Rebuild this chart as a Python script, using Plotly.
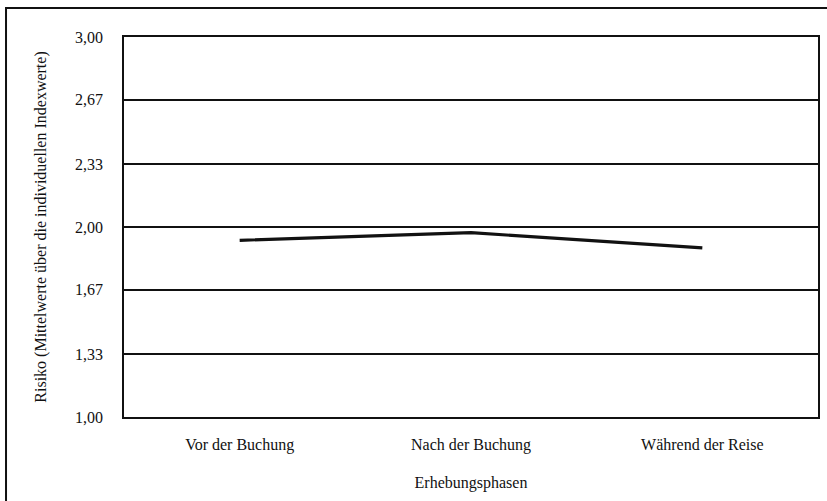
import plotly.graph_objects as go

categories = ["Vor der Buchung", "Nach der Buchung", "Während der Reise"]
risk_values = [1.93, 1.97, 1.89]
y_tickvals = [1.00, 1.33, 1.67, 2.00, 2.33, 2.67, 3.00]
y_ticktext = ["1,00", "1,33", "1,67", "2,00", "2,33", "2,67", "3,00"]

font_family = "Liberation Serif, Times New Roman, serif"

fig = go.Figure()
fig.add_trace(go.Scatter(
    x=categories, y=risk_values, mode="lines",
    line=dict(color="#111111", width=3.2),
    showlegend=False,
))

fig.update_layout(
    width=827, height=501,
    margin=dict(l=124, r=9, t=37, b=84),
    paper_bgcolor="white", plot_bgcolor="white",
    font=dict(family=font_family, size=16, color="#111111"),
    xaxis=dict(
        type="category", range=[-0.5, 2.5], automargin=False,
        showgrid=False, zeroline=False,
        showline=True, linecolor="#111111", linewidth=1.5, mirror=True,
        ticks="", ticklabelstandoff=12,
        tickfont=dict(size=16),
        title=dict(text="Erhebungsphasen", font=dict(size=16), standoff=24),
    ),
    yaxis=dict(
        range=[1.0, 3.0], automargin=False,
        tickvals=y_tickvals, ticktext=y_ticktext,
        showgrid=True, gridcolor="#111111", gridwidth=1.5,
        zeroline=False,
        showline=True, linecolor="#111111", linewidth=1.5, mirror=True,
        ticks="", ticklabelstandoff=16,
        tickfont=dict(size=16),
        title=dict(text="Risiko (Mittelwerte über die individuellen Indexwerte)",
                   font=dict(size=16), standoff=24),
    ),
    shapes=[dict(
        type="rect", xref="paper", yref="paper",
        x0=-0.170, x1=1.05, y0=-0.4, y1=1.076,
        line=dict(color="#111111", width=2), layer="below",
    )],
)

fig.write_html("out.html", post_script="document.body.style.margin='0';",
               config={"displayModeBar": False})
